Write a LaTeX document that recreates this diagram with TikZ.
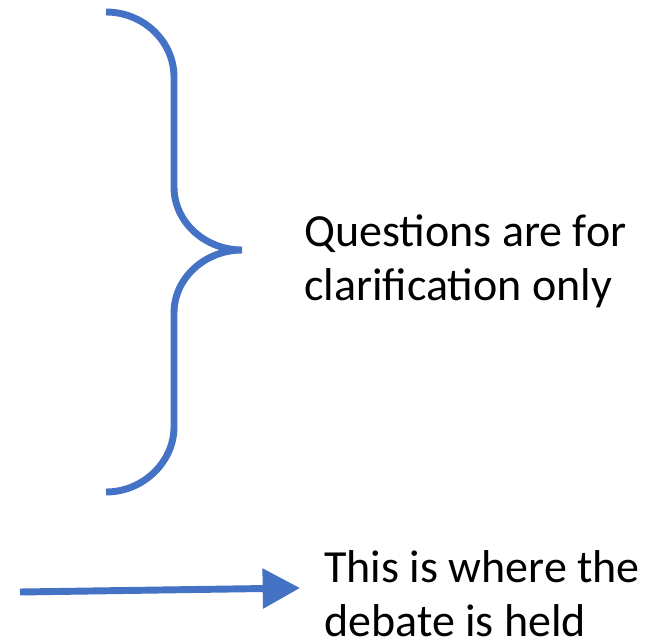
\documentclass[tikz,border=0pt]{standalone}
\usepackage{fontspec}
\setmainfont{Carlito}
\usetikzlibrary{arrows.meta}
\definecolor{bracecol}{HTML}{4472C4}
\tikzset{
  shape line/.style={draw=bracecol, line width=5.2pt},
  label text/.style={inner sep=0pt, align=left, anchor=base west, font=\fontsize{34.5}{40.5}\selectfont},
}
\begin{document}
\begin{tikzpicture}[x=0.75pt,y=-0.75pt]
\useasboundingbox (0,0) rectangle (656,639);
\draw[shape line] (106,12) .. controls (143,12) and (174,41) .. (174,77) -- (174,187)
  .. controls (174,222) and (205,250) .. (242,250)
  .. controls (205,250) and (174,278) .. (174,313) -- (174,427)
  .. controls (174,462) and (143,492) .. (106,492);
\node[label text] (q) at (304,300) {Questions are for\\clarification only};
\node[label text] (d) at (324,636) {This is where the\\debate is held};
\coordinate (a0) at (20,592);
\coordinate (a1) at (300,588);
\draw[shape line, -{Triangle[length=28pt,width=29pt]}] (a0) -- (a1);
\end{tikzpicture}
\end{document}
